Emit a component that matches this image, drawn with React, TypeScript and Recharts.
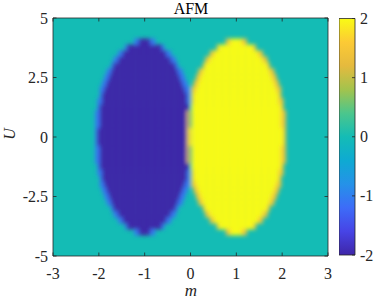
import React from 'react';
import { ScatterChart, Scatter, XAxis, YAxis, CartesianGrid, ReferenceArea, BarChart, Bar } from 'recharts';

// axis ticks
const M_TICKS = [-3, -2, -1, 0, 1, 2, 3];
const U_TICKS = [-5, -2.5, 0, 2.5, 5];
const CB_TICKS = [-2, -1, 0, 1, 2];

// |U| of each grid row and the half width (in m) of a lobe on that row
const U_LEVELS = [0, 0.25, 0.5, 0.75, 1, 1.25, 1.5, 1.75, 2, 2.25, 2.5, 2.75, 3, 3.25, 3.5, 3.75, 4];
const HALF_WIDTH = [1.0, 1.0, 0.99, 0.98, 0.97, 0.95, 0.93, 0.9, 0.87, 0.83, 0.78, 0.72, 0.66, 0.58, 0.48, 0.35, 0.12];

// the two lobes: centre in m, value inside, value of the thin rim round it
const LOBE_CENTERS = [-1, 1];
const LOBE_VALUES = [-2, 2];
const RIM_VALUES = [-1.1, 1.5];
const RIM_WIDTH = 0.08;
const BACKGROUND_VALUE = 0;

// parula-like colour map
const PARULA = [
  { t: 0.0, c: '#3E26A8' },
  { t: 0.1, c: '#4744E6' },
  { t: 0.2, c: '#3D6CF8' },
  { t: 0.3, c: '#2592E8' },
  { t: 0.4, c: '#0EAAD2' },
  { t: 0.5, c: '#14BCB5' },
  { t: 0.6, c: '#4CC68C' },
  { t: 0.7, c: '#A3C34D' },
  { t: 0.8, c: '#E5BA3E' },
  { t: 0.9, c: '#FCCA35' },
  { t: 1.0, c: '#F9FB15' },
];

const hex = (c: string) => [1, 3, 5].map((i) => parseInt(c.slice(i, i + 2), 16));

const colorOf = (v: number) => {
  const t = Math.max(0, Math.min(1, (v + 2) / 4));
  for (let i = 1; i < PARULA.length; i++) {
    if (t <= PARULA[i].t) {
      const a = PARULA[i - 1];
      const b = PARULA[i];
      const f = (t - a.t) / (b.t - a.t);
      const ca = hex(a.c);
      const cb = hex(b.c);
      const rgb = ca.map((x, k) => Math.round(x + (cb[k] - x) * f));
      return `rgb(${rgb.join(',')})`;
    }
  }
  return PARULA[PARULA.length - 1].c;
};

// chart geometry
const W = 374;
const H = 300;
const PLOT_LEFT = 53;
const PLOT_RIGHT = 328;
const PLOT_TOP = 18;
const PLOT_BOTTOM = 256;
const M_STEP = 0.05;
const CELL_W = (M_STEP * (PLOT_RIGHT - PLOT_LEFT)) / 6 + 0.4;
const CELL_H = (0.25 * (PLOT_BOTTOM - PLOT_TOP)) / 10 + 0.4;

const AXIS = '#262626';
const FONT = 'Liberation Serif, Times New Roman, serif';

// build the heatmap cells that differ from the background
const cells: { m: number; u: number; color: string }[] = [];
U_LEVELS.forEach((lvl, i) => {
  const rows = lvl === 0 ? [0] : [lvl, -lvl];
  rows.forEach((u) => {
    for (let k = 0; k <= Math.round(6 / M_STEP); k++) {
      const m = -3 + k * M_STEP;
      LOBE_CENTERS.forEach((c, j) => {
        const d = Math.abs(m - c);
        if (d <= HALF_WIDTH[i] + 1e-9) {
          cells.push({ m, u, color: colorOf(LOBE_VALUES[j]) });
        } else if (d <= HALF_WIDTH[i] + RIM_WIDTH + 1e-9 && Math.abs(m) > 0.03) {
          cells.push({ m, u, color: colorOf(RIM_VALUES[j]) });
        }
      });
    }
  });
});

const cbData = [{ name: 'cb', range: [-2, 2] }];

const fmt = (v: number) => String(v);

const HeatCell = (props: any) => {
  const { cx, cy, payload } = props;
  if (cx == null || cy == null) return null;
  return <rect x={cx - CELL_W / 2} y={cy - CELL_H / 2} width={CELL_W} height={CELL_H} fill={payload.color} />;
};

const XTick = (props: any) => {
  const { x, y, payload } = props;
  return (
    <g>
      <text x={x} y={y + 23} textAnchor="middle" fontSize={16} fontFamily={FONT} fill={AXIS}>
        {fmt(payload.value)}
      </text>
      <line x1={x} y1={y} x2={x} y2={y - 3.5} stroke={AXIS} strokeWidth={0.8} />
      <line x1={x} y1={PLOT_TOP} x2={x} y2={PLOT_TOP + 3.5} stroke={AXIS} strokeWidth={0.8} />
    </g>
  );
};

const YTick = (props: any) => {
  const { x, y, payload } = props;
  return (
    <g>
      <text x={x - 5} y={y + 5.5} textAnchor="end" fontSize={16} fontFamily={FONT} fill={AXIS}>
        {fmt(payload.value)}
      </text>
      <line x1={x} y1={y} x2={x + 3.5} y2={y} stroke={AXIS} strokeWidth={0.8} />
      <line x1={PLOT_RIGHT} y1={y} x2={PLOT_RIGHT - 3.5} y2={y} stroke={AXIS} strokeWidth={0.8} />
    </g>
  );
};

const CbTick = (props: any) => {
  const { x, y, payload } = props;
  return (
    <g>
      <text x={x + 5} y={y + 5.5} textAnchor="start" fontSize={16} fontFamily={FONT} fill={AXIS}>
        {fmt(payload.value)}
      </text>
      <line x1={x} y1={y} x2={x - 3} y2={y} stroke={AXIS} strokeWidth={0.8} />
    </g>
  );
};

const App: React.FC = () => {
  return (
    <div style={{ position: 'absolute', left: 0, top: 0, width: W, height: H, background: '#fff' }}>
      <style>{'.heatmap .recharts-scatter { filter: url(#soften); }'}</style>
      <svg width={0} height={0} style={{ position: 'absolute' }}>
        <defs>
          <filter id="soften" x="-10%" y="-10%" width="120%" height="120%">
            <feGaussianBlur stdDeviation="2.2" />
          </filter>
        </defs>
      </svg>

      <div className="heatmap" style={{ position: 'absolute', left: 0, top: 0 }}>
        <ScatterChart width={W} height={H} margin={{ top: PLOT_TOP, right: W - PLOT_RIGHT, bottom: 0, left: 0 }}>
          <CartesianGrid horizontal={false} vertical={false} fill={colorOf(BACKGROUND_VALUE)} fillOpacity={1} />
          <XAxis
            type="number"
            dataKey="m"
            domain={[-3, 3]}
            ticks={M_TICKS}
            height={H - PLOT_BOTTOM}
            axisLine={false}
            tickLine={false}
            tickSize={0}
            tickMargin={0}
            tick={<XTick />}
            interval={0}
          />
          <YAxis
            type="number"
            dataKey="u"
            domain={[-5, 5]}
            ticks={U_TICKS}
            width={PLOT_LEFT}
            axisLine={false}
            tickLine={false}
            tickSize={0}
            tickMargin={0}
            tick={<YTick />}
            interval={0}
          />
          <Scatter data={cells} shape={<HeatCell />} isAnimationActive={false} />
          <ReferenceArea x1={-3} x2={3} y1={-5} y2={5} fill="none" stroke={AXIS} strokeWidth={0.8} />
          <text x={191} y={14} textAnchor="middle" fontSize={16} fontFamily={FONT} fill="#000">
            AFM
          </text>
          <text x={191} y={296} textAnchor="middle" fontSize={17} fontStyle="italic" fontFamily={FONT} fill={AXIS}>
            m
          </text>
          <text
            x={15}
            y={134}
            textAnchor="middle"
            fontSize={16}
            fontStyle="italic"
            fontFamily={FONT}
            fill={AXIS}
            transform="rotate(-90 15 134)"
          >
            U
          </text>
        </ScatterChart>
      </div>

      <div style={{ position: 'absolute', left: 339, top: 0 }}>
        <BarChart
          width={W - 339}
          height={H}
          data={cbData}
          margin={{ top: PLOT_TOP + 0.5, right: 0, bottom: H - 255, left: 0 }}
          barCategoryGap={0}
          barGap={0}
        >
          <defs>
            <linearGradient id="parulaGrad" x1="0" y1="1" x2="0" y2="0">
              {PARULA.map((s) => (
                <stop key={s.t} offset={s.t} stopColor={s.c} />
              ))}
            </linearGradient>
          </defs>
          <XAxis dataKey="name" hide />
          <YAxis
            orientation="right"
            type="number"
            domain={[-2, 2]}
            ticks={CB_TICKS}
            width={W - 339 - 16}
            axisLine={false}
            tickLine={false}
            tickSize={0}
            tickMargin={0}
            tick={<CbTick />}
            interval={0}
          />
          <Bar dataKey="range" fill="url(#parulaGrad)" stroke={AXIS} strokeWidth={0.8} isAnimationActive={false} />
        </BarChart>
      </div>
    </div>
  );
};

export default App;
